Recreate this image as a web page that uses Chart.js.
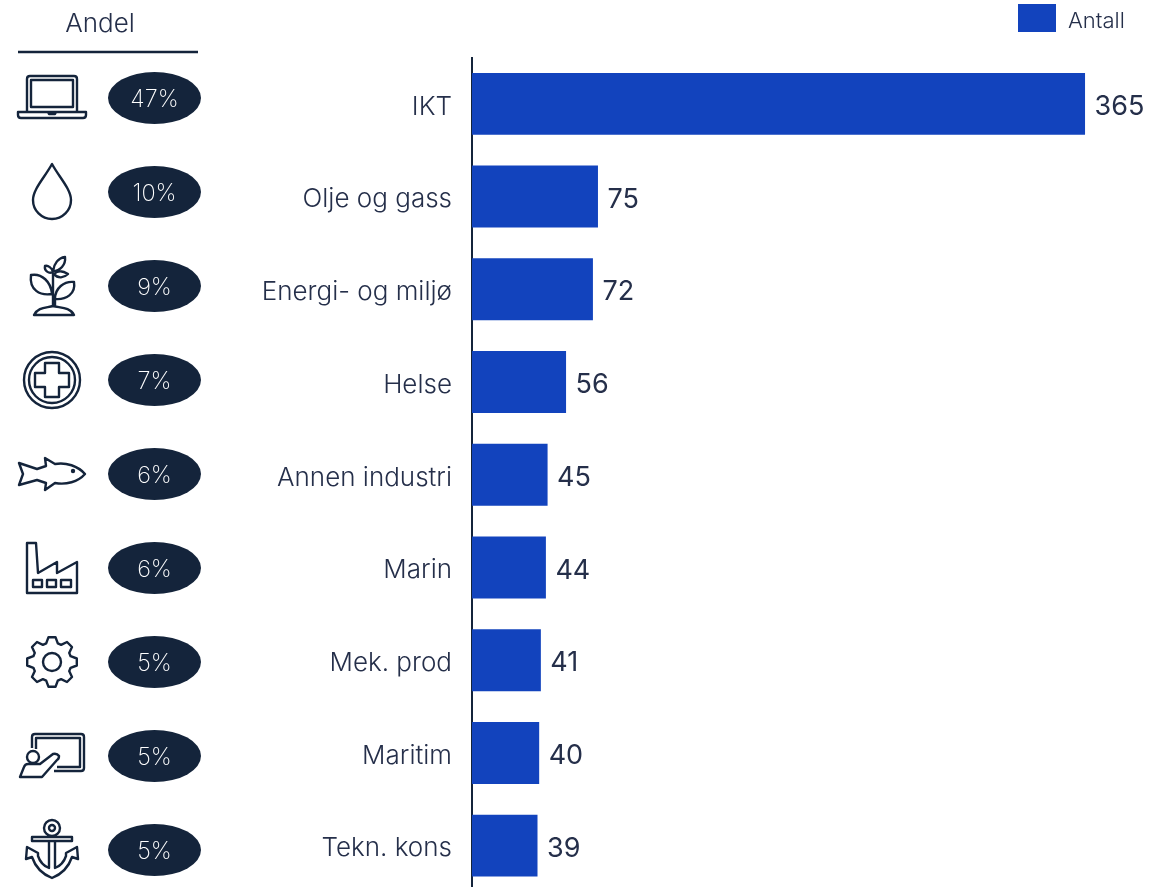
<!DOCTYPE html>
<html>
<head>
<meta charset="utf-8">
<title>Andel og antall per bransje</title>
<script src="https://cdn.jsdelivr.net/npm/chart.js@4"></script>
<style>
  html, body { margin: 0; padding: 0; background: #fff; overflow: hidden; }
  #chart { display: block; }
</style>
</head>
<body>
<canvas id="chart" width="1167" height="892"></canvas>
<script>
// ===== DATA =====
const sectors = ['IKT', 'Olje og gass', 'Energi- og miljø', 'Helse', 'Annen industri', 'Marin', 'Mek. prod', 'Maritim', 'Tekn. kons'];
const antall  = [365, 75, 72, 56, 45, 44, 41, 40, 39];
const andel   = ['47%', '10%', '9%', '7%', '6%', '6%', '5%', '5%', '5%'];

const BLUE = '#1243bd';
const NAVY = '#14243b';
const INK  = '#252f4a';
const FONT = 'Inter, "Noto Sans", sans-serif';

// ===== ICONS (drawn around the row centre) =====
function gearPath() {
  let d = '';
  for (let i = 0; i < 8; i++) {
    const a = i * Math.PI / 4 - Math.PI / 2;
    [[19.5, -0.3], [25, -0.14], [25, 0.14], [19.5, 0.3]].forEach(([r, o], j) => {
      const x = (r * Math.cos(a + o)).toFixed(1), y = (r * Math.sin(a + o)).toFixed(1);
      d += (i === 0 && j === 0 ? 'M' : 'L') + x + ' ' + y + ' ';
    });
  }
  return d + 'Z M9 0 A9 9 0 1 1 -9 0 A9 9 0 1 1 9 0Z';
}

const icons = [
  // laptop
  'M-25 14 L-25 -19 Q-25 -22 -22 -22 L22 -22 Q25 -22 25 -19 L25 14 M-21 -18 L21 -18 L21 9 L-21 9Z M-34 14 L34 14 L34 17 Q34 20 31 20 L-31 20 Q-34 20 -34 17Z M-4 14 L-3 16 L3 16 L4 14',
  // drop
  'M0 -28 C-7 -15 -19 -3 -19 8 A19 19 0 0 0 19 8 C19 -3 7 -15 0 -28Z',
  // plant
  'M-18 29 C-14 21 -6 22 1 20 C8 22 18 21 22 29Z M1 20 L1 -15 M3 20 L3 13 M-21 -11 C-10 -13 -1 -4 0 8 C-12 10 -23 4 -21 -11Z M22 -4 C12 -5 3 2 3 13 C14 14 24 8 22 -4Z M13 -29 C6 -28 2 -22 1 -15 C8 -15 14 -21 13 -29Z M-7 -20 C-4 -21 0 -18 1 -14 C-3 -12 -8 -15 -7 -20Z M16 -12 C10 -16 5 -15 2 -12 C6 -7 12 -8 16 -12Z',
  // helse
  'M28 0 A28 28 0 1 1 -28 0 A28 28 0 1 1 28 0Z M23 0 A23 23 0 1 1 -23 0 A23 23 0 1 1 23 0Z M-7 -17 L7 -17 L7 -7 L17 -7 L17 7 L7 7 L7 17 L-7 17 L-7 7 L-17 7 L-17 -7 L-7 -7Z',
  // fish
  'M33 0 C26 -8 14 -12 3 -10 L-7 -16 L-6 -8 L-15 -5 L-33 -11 L-29 0 L-33 11 L-15 6 L-6 9 L-7 16 L3 9 C14 11 26 8 33 0Z',
  // factory
  'M-25 25 L-25 -25 L-16 -25 L-14 5 L5 -6 L5 5 L25 -6 L25 25Z M-19 12 L-10 12 L-10 19 L-19 19Z M-5 12 L4 12 L4 19 L-5 19Z M9 12 L19 12 L19 19 L9 19Z',
  // gear
  gearPath(),
  // tavle
  'M-20 -8 L-20 -19 Q-20 -22 -17 -22 L29 -22 Q32 -22 32 -19 L32 12 Q32 15 29 15 L2 15 M-16 -7 L-16 -18 L28 -18 L28 11 L5 11 M-13 1 A6 6 0 1 1 -25 1 A6 6 0 1 1 -13 1Z M-32 21 L-28 11 Q-27 8 -24 8 L-12 8 L1 -2 Q5 -3 7 0 Q7 3 5 4 L-10 21Z',
  // anchor
  'M8 -22 A8 8 0 1 1 -8 -22 A8 8 0 1 1 8 -22Z M3 -22 A3 3 0 1 1 -3 -22 A3 3 0 1 1 3 -22Z M-20 -13 L20 -13 L20 -9 L-20 -9Z M-3 -9 L-3 18 Q-11 15 -14 6 L-14 3 L-25 -3 L-26 9 L-20 7 Q-15 22 0 28 Q15 22 20 7 L26 9 L25 -3 L14 3 L14 6 Q11 15 3 18 L3 -9',
];

// ===== LEFT COLUMN, LEGEND, CATEGORY + VALUE LABELS =====
const sidePanel = {
  id: 'sidePanel',
  afterDraw(chart) {
    const ctx = chart.ctx;
    ctx.save();

    ctx.fillStyle = INK;
    ctx.font = '300 26px ' + FONT;
    ctx.textAlign = 'center';
    ctx.textBaseline = 'middle';
    ctx.fillText('Andel', 100, 24);
    ctx.strokeStyle = NAVY;
    ctx.lineWidth = 2.5;
    ctx.beginPath();
    ctx.moveTo(18, 52);
    ctx.lineTo(198, 52);
    ctx.stroke();

    andel.forEach((txt, i) => {
      const y = 98 + i * 94;
      ctx.fillStyle = NAVY;
      ctx.beginPath();
      ctx.ellipse(154.5, y, 46.5, 26, 0, 0, Math.PI * 2);
      ctx.fill();
      ctx.fillStyle = '#fff';
      ctx.font = '200 23.5px ' + FONT;
      ctx.fillText(txt, 154.5, y + 2);

      ctx.save();
      ctx.translate(52, y);
      ctx.strokeStyle = NAVY;
      ctx.lineWidth = 2.4;
      ctx.lineJoin = 'round';
      ctx.stroke(new Path2D(icons[i]));
      if (i === 4) {
        ctx.fillStyle = NAVY;
        ctx.beginPath();
        ctx.arc(21, -3, 2.2, 0, Math.PI * 2);
        ctx.fill();
      }
      ctx.restore();
    });

    // legend
    ctx.fillStyle = BLUE;
    ctx.fillRect(1018, 4, 38, 28);
    ctx.fillStyle = INK;
    ctx.font = '300 22px ' + FONT;
    ctx.textAlign = 'left';
    ctx.fillText('Antall', 1068, 21);

    // sector names right-aligned against the axis
    const yScale = chart.scales.y;
    ctx.font = '300 26px ' + FONT;
    ctx.textAlign = 'right';
    sectors.forEach((name, i) => {
      ctx.fillText(name, 452, yScale.getPixelForValue(i) + 3);
    });

    // values at bar ends
    const meta = chart.getDatasetMeta(0);
    ctx.font = '400 27px ' + FONT;
    ctx.textAlign = 'left';
    meta.data.forEach((bar, i) => {
      ctx.fillText(antall[i], bar.x + 9.5, bar.y + 3);
    });
    ctx.restore();
  },
};

// ===== CHART =====
new Chart(document.getElementById('chart'), {
  type: 'bar',
  data: {
    labels: sectors,
    datasets: [{
      label: 'Antall',
      data: antall,
      backgroundColor: BLUE,
      borderWidth: 0,
      categoryPercentage: 1,
      barPercentage: 0.668,
    }],
  },
  options: {
    indexAxis: 'y',
    responsive: false,
    animation: false,
    plugins: {
      tooltip: { enabled: false },
      legend: { display: false },
    },
    scales: {
      x: {
        position: 'top',
        min: 0,
        max: 413.8,
        border: { display: false },
        grid: { display: false },
        ticks: { display: false },
        afterFit: s => { s.height = 57.5; },
      },
      y: {
        border: { display: true, color: NAVY, width: 2 },
        grid: { display: false, drawTicks: false },
        ticks: { display: false },
        afterFit: s => { s.width = 472; },
      },
    },
  },
  plugins: [sidePanel],
});
</script>
</body>
</html>
